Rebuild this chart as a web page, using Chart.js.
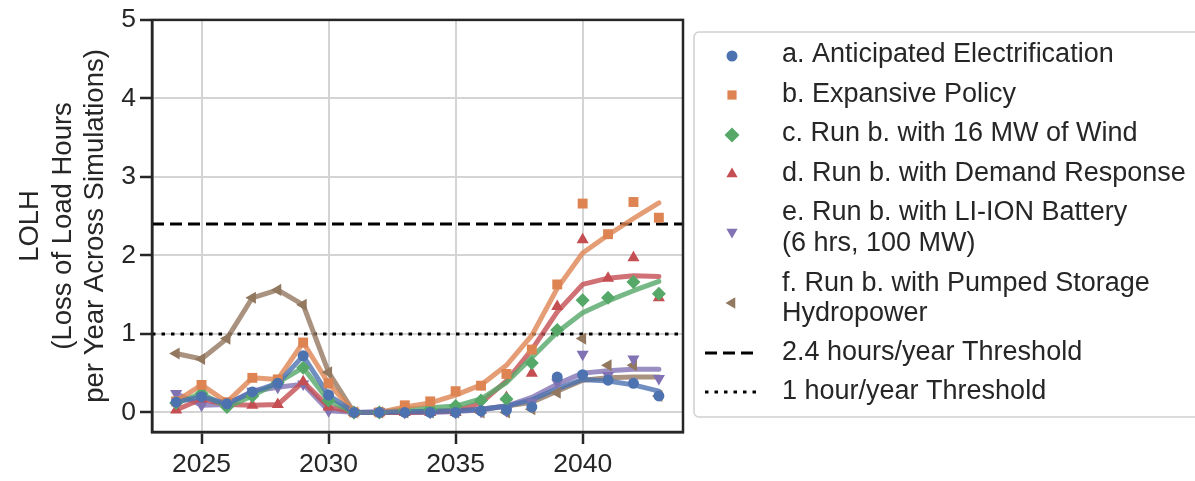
<!DOCTYPE html>
<html>
<head>
<meta charset="utf-8">
<script src="https://cdn.jsdelivr.net/npm/chart.js@4.4.1/dist/chart.umd.min.js"></script>
<style>
  html, body { margin: 0; padding: 0; background: #fff; }
  #wrap { width: 1195px; height: 481px; }
</style>
</head>
<body>
<div id="wrap"><canvas id="chart" width="1195" height="481"></canvas></div>
<script>
// --- data ---
const years = [2024, 2025, 2026, 2027, 2028, 2029, 2030, 2031, 2032, 2033,
               2034, 2035, 2036, 2037, 2038, 2039, 2040, 2041, 2042, 2043];

// markers (simulated LOLH per year)
const aPts = [0.13, 0.20, 0.11, 0.26, 0.37, 0.72, 0.22, 0.00, 0.00, 0.00, 0.00, 0.00, 0.02, 0.03, 0.07, 0.45, 0.48, 0.41, 0.37, 0.21];
const bPts = [0.14, 0.35, 0.13, 0.44, 0.42, 0.89, 0.37, 0.00, 0.00, 0.09, 0.14, 0.27, 0.34, 0.49, 0.80, 1.63, 2.66, 2.27, 2.68, 2.48];
const cPts = [0.12, 0.24, 0.07, 0.21, 0.38, 0.57, 0.15, 0.00, 0.00, 0.03, 0.04, 0.08, 0.15, 0.17, 0.63, 1.05, 1.43, 1.46, 1.66, 1.51];
const dPts = [0.03, 0.17, 0.10, 0.09, 0.10, 0.39, 0.07, 0.00, 0.00, 0.00, 0.00, 0.00, 0.03, 0.19, 0.50, 1.35, 2.20, 1.71, 1.97, 1.46];
const ePts = [0.24, 0.09, 0.10, 0.27, 0.32, 0.36, 0.02, 0.00, 0.01, 0.00, 0.00, 0.00, 0.01, 0.02, 0.13, 0.38, 0.74, 0.47, 0.68, 0.43];
const fPts = [0.75, 0.68, 0.94, 1.46, 1.56, 1.37, 0.51, 0.00, 0.00, 0.00, 0.00, 0.00, 0.00, 0.00, 0.04, 0.25, 0.94, 0.60, 0.60, 0.21];

// smoothed trend lines
const aFit = [0.13, 0.20, 0.11, 0.26, 0.37, 0.72, 0.22, 0.00, 0.00, 0.01, 0.01, 0.02, 0.04, 0.08, 0.16, 0.30, 0.42, 0.40, 0.35, 0.27];
const bFit = [0.14, 0.35, 0.13, 0.44, 0.42, 0.89, 0.37, 0.00, 0.00, 0.07, 0.12, 0.22, 0.35, 0.60, 0.98, 1.58, 2.03, 2.26, 2.47, 2.67];
const cFit = [0.12, 0.24, 0.07, 0.21, 0.38, 0.57, 0.15, 0.00, 0.00, 0.04, 0.06, 0.08, 0.17, 0.38, 0.70, 1.02, 1.27, 1.42, 1.55, 1.67];
const dFit = [0.03, 0.17, 0.10, 0.09, 0.10, 0.39, 0.07, 0.00, 0.00, 0.00, 0.01, 0.02, 0.12, 0.40, 0.80, 1.28, 1.63, 1.71, 1.74, 1.73];
const eFit = [0.24, 0.09, 0.10, 0.27, 0.32, 0.36, 0.02, 0.00, 0.01, 0.00, 0.00, 0.01, 0.03, 0.08, 0.19, 0.36, 0.50, 0.53, 0.55, 0.55];
const fFit = [0.75, 0.68, 0.94, 1.46, 1.56, 1.37, 0.51, 0.00, 0.00, 0.00, 0.01, 0.02, 0.04, 0.08, 0.13, 0.27, 0.41, 0.44, 0.45, 0.45];

const thresholds = [2.4, 1];
const seriesLabels = [
  ["a. Anticipated Electrification"],
  ["b. Expansive Policy"],
  ["c. Run b. with 16 MW of Wind"],
  ["d. Run b. with Demand Response"],
  ["e. Run b. with LI-ION Battery", "(6 hrs, 100 MW)"],
  ["f. Run b. with Pumped Storage", "Hydropower"]
];
const thresholdLabels = ["2.4 hours/year Threshold", "1 hour/year Threshold"];
const yTitle = ["LOLH", "(Loss of Load Hours", "per Year Across Simulations)"];

// --- styling ---
const FONT = "'Liberation Sans', Arial, Helvetica, sans-serif";
const TEXT = "#262626";
const colors = ["#4C72B0", "#DD8452", "#55A868", "#C44E52", "#8172B3", "#937860"];
const styles = ["circle", "rect", "rectRot", "triangle", "triangle", "triangle"];
const rotations = [0, 0, 0, 0, 180, 270];
const radii = [5.5, 7, 7, 7, 7, 7];
const X_MIN = 2023.05, X_MAX = 2043.95;

const pts = [aPts, bPts, cPts, dPts, ePts, fPts];
const fits = [aFit, bFit, cFit, dFit, eFit, fFit];

function alpha(hex, a) {
  const n = parseInt(hex.slice(1), 16);
  return `rgba(${n >> 16},${(n >> 8) & 255},${n & 255},${a})`;
}

const datasets = [];
pts.forEach((p, i) => {
  datasets.push({
    data: years.map((y, k) => ({ x: y, y: p[k] })),
    showLine: false,
    pointStyle: styles[i],
    rotation: rotations[i],
    pointRadius: radii[i],
    backgroundColor: colors[i],
    borderColor: colors[i],
    borderWidth: 0
  });
});
fits.forEach((f, i) => {
  datasets.push({
    data: years.map((y, k) => ({ x: y, y: f[k] })),
    showLine: true,
    pointRadius: 0,
    borderColor: alpha(colors[i], 0.8),
    borderWidth: 5,
    borderJoinStyle: "round",
    borderCapStyle: "round"
  });
});
thresholds.forEach((t, i) => {
  datasets.push({
    data: [{ x: X_MIN, y: t }, { x: X_MAX, y: t }],
    showLine: true,
    pointRadius: 0,
    borderColor: "#000",
    borderWidth: 3,
    borderDash: i === 0 ? [12, 6] : [3.5, 6]
  });
});

// box spines, y title and the right-side legend
function drawMarker(ctx, style, rot, x, y, r) {
  ctx.beginPath();
  if (style === "circle") {
    ctx.arc(x, y, r, 0, Math.PI * 2);
  } else if (style === "rect") {
    const s = r * Math.SQRT1_2;
    ctx.rect(x - s, y - s, 2 * s, 2 * s);
  } else if (style === "rectRot") {
    ctx.moveTo(x, y - r); ctx.lineTo(x + r, y); ctx.lineTo(x, y + r); ctx.lineTo(x - r, y);
  } else {
    const a = rot * Math.PI / 180;
    for (let k = 0; k < 3; k++) {
      const ang = a + k * 2 * Math.PI / 3;
      const px = x + Math.sin(ang) * r, py = y - Math.cos(ang) * r;
      k ? ctx.lineTo(px, py) : ctx.moveTo(px, py);
    }
  }
  ctx.closePath();
  ctx.fill();
}

const decor = {
  id: "decor",
  afterDraw(chart) {
    const { ctx, chartArea: a } = chart;
    ctx.save();
    ctx.strokeStyle = TEXT;
    ctx.lineWidth = 2.5;
    ctx.strokeRect(a.left, a.top, a.right - a.left, a.bottom - a.top);

    // y title
    ctx.fillStyle = TEXT;
    ctx.font = `27.5px ${FONT}`;
    ctx.textAlign = "center";
    ctx.textBaseline = "middle";
    const cx = [30, 63, 95];
    yTitle.forEach((t, i) => {
      ctx.save();
      ctx.translate(cx[i], (a.top + a.bottom) / 2);
      ctx.rotate(-Math.PI / 2);
      ctx.fillText(t, 0, 0);
      ctx.restore();
    });

    // legend frame
    ctx.strokeStyle = "#d0d0d0";
    ctx.lineWidth = 1.5;
    ctx.beginPath();
    ctx.roundRect(694, 32, 520, 385, 5);
    ctx.stroke();

    ctx.textAlign = "left";
    ctx.font = `27px ${FONT}`;
    const rows = [[55], [95], [134], [174], [213, 244], [284, 314]];
    const mk = [56, 95, 135, 174, 232, 303];
    const lr = [5.5, 6.5, 7.5, 6.5, 6.5, 6.5];
    seriesLabels.forEach((lines, i) => {
      ctx.fillStyle = colors[i];
      drawMarker(ctx, styles[i], rotations[i], 732, mk[i], lr[i]);
      ctx.fillStyle = TEXT;
      lines.forEach((t, j) => ctx.fillText(t, 782, rows[i][j]));
    });
    const ty = [353, 392];
    thresholdLabels.forEach((t, i) => {
      ctx.strokeStyle = "#000";
      ctx.lineWidth = 3;
      ctx.setLineDash(i === 0 ? [12, 6] : [3.5, 6]);
      ctx.beginPath();
      ctx.moveTo(705, ty[i]);
      ctx.lineTo(758, ty[i]);
      ctx.stroke();
      ctx.setLineDash([]);
      ctx.fillStyle = TEXT;
      ctx.fillText(t, 782, ty[i]);
    });
    ctx.restore();
  }
};

new Chart(document.getElementById("chart"), {
  type: "scatter",
  data: { datasets },
  plugins: [decor],
  options: {
    responsive: false,
    animation: false,
    devicePixelRatio: 1,
    layout: { padding: { top: 18, right: 512, left: 0, bottom: 0 } },
    plugins: { legend: { display: false }, tooltip: { enabled: false } },
    scales: {
      x: {
        type: "linear",
        min: X_MIN,
        max: X_MAX,
        afterFit: s => { s.height = 49; },
        ticks: {
          stepSize: 5,
          includeBounds: false,
          padding: 5,
          color: TEXT,
          font: { family: FONT, size: 26.5 },
          callback: v => String(v)
        },
        grid: { color: "#d4d4d4", lineWidth: 2, tickColor: TEXT, tickWidth: 2.5, tickLength: 12 },
        border: { color: TEXT, width: 2.5 }
      },
      y: {
        min: -0.25,
        max: 5,
        afterFit: s => { s.width = 152; },
        ticks: {
          stepSize: 1,
          includeBounds: false,
          padding: 4,
          color: TEXT,
          font: { family: FONT, size: 26.5 }
        },
        grid: { color: "#d4d4d4", lineWidth: 2, tickColor: TEXT, tickWidth: 2.5, tickLength: 12 },
        border: { color: TEXT, width: 2.5 }
      }
    }
  }
});
</script>
</body>
</html>
